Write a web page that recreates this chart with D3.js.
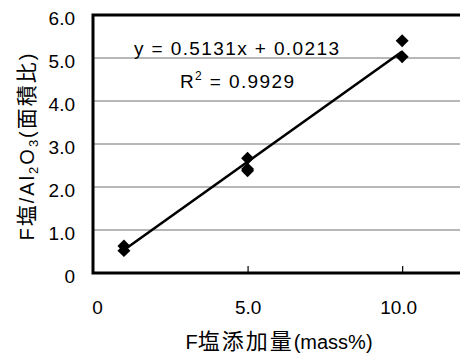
<!DOCTYPE html>
<html>
<head>
<meta charset="utf-8">
<script src="https://cdn.jsdelivr.net/npm/d3@7"></script>
<style>
  html, body { margin: 0; padding: 0; background: #fff; }
  svg { display: block; }
  text { font-family: "Liberation Sans", Arial, "Noto Sans CJK JP", sans-serif; fill: #000; }
  .cjk { font-family: "Noto Sans CJK JP", sans-serif; }
</style>
</head>
<body>
<svg id="chart" width="460" height="354"></svg>
<script>
// Measured samples: F-salt addition (mass%) vs. F-salt / Al2O3 peak area ratio
const additionMass = [1, 1, 5, 5, 5, 10, 10];
const areaRatio    = [0.63, 0.52, 2.67, 2.42, 2.38, 5.40, 5.03];

// Linear trendline
const slope = 0.5131;
const intercept = 0.0213;
const rSquared = "0.9929";

// Axis ticks
const xTicks = [0, 5, 10];
const xTickLabels = ["0", "5.0", "10.0"];
const yTicks = [0, 1, 2, 3, 4, 5, 6];
const yTickLabels = ["0", "1.0", "2.0", "3.0", "4.0", "5.0", "6.0"];

const svg = d3.select("#chart");
const plot = { left: 93, top: 15, right: 464, bottom: 273 };

const x = d3.scaleLinear().domain([0, 12]).range([plot.left, plot.right]);
const y = d3.scaleLinear().domain([0, 6]).range([plot.bottom, plot.top]);

// Horizontal gridlines
svg.append("g")
  .selectAll("line")
  .data(yTicks.filter(v => v > 0 && v < 6))
  .join("line")
  .attr("x1", plot.left).attr("x2", plot.right)
  .attr("y1", d => y(d)).attr("y2", d => y(d))
  .attr("stroke", "#707070").attr("stroke-width", 1);

// Y tick labels
svg.append("g")
  .selectAll("text")
  .data(yTicks)
  .join("text")
  .attr("x", 75)
  .attr("y", d => y(d) + 3)
  .attr("text-anchor", "end")
  .attr("dominant-baseline", "central")
  .attr("font-size", 19)
  .text((d, i) => yTickLabels[i]);

// X axis ticks (inward) and labels
const xAxis = d3.axisBottom(x)
  .tickValues(xTicks)
  .tickSize(-7)
  .tickFormat((d, i) => xTickLabels[i]);
const gx = svg.append("g")
  .attr("transform", `translate(0,${plot.bottom})`)
  .call(xAxis);
gx.select(".domain").remove();
gx.selectAll(".tick line").attr("stroke", "#000").attr("stroke-width", 1.2)
  .filter(d => d === 0).remove();
gx.selectAll(".tick text")
  .attr("y", 0).attr("dy", 0)
  .attr("transform", (d, i) => `translate(${[4, 0, -4][i]},41)`)
  .attr("font-size", 19)
  .attr("font-family", "Liberation Sans, Arial, sans-serif")
  .attr("fill", "#000");

// Plot frame (top, left, bottom)
svg.append("path")
  .attr("d", `M${plot.right},${plot.top} L${plot.left},${plot.top} L${plot.left},${plot.bottom} L${plot.right},${plot.bottom}`)
  .attr("fill", "none")
  .attr("stroke", "#000")
  .attr("stroke-width", 3);

// Trendline across the data range
const xExtent = d3.extent(additionMass);
const line = d3.line().x(d => x(d)).y(d => y(slope * d + intercept));
svg.append("path")
  .datum(xExtent)
  .attr("d", line)
  .attr("fill", "none")
  .attr("stroke", "#000")
  .attr("stroke-width", 2.6);

// Diamond markers
const diamond = d3.symbol().type(d3.symbolSquare).size(84);
svg.append("g")
  .selectAll("path")
  .data(additionMass.map((v, i) => [v, areaRatio[i]]))
  .join("path")
  .attr("d", diamond)
  .attr("transform", d => `translate(${x(d[0])},${y(d[1])}) rotate(45)`)
  .attr("fill", "#000");

// Trendline equation and R²
svg.append("text")
  .attr("x", 134).attr("y", 55)
  .attr("font-size", 19)
  .attr("textLength", 205).attr("lengthAdjust", "spacing")
  .text(`y = ${slope}x + ${intercept}`);
const r2 = svg.append("text")
  .attr("x", 180).attr("y", 88)
  .attr("font-size", 19)
  .attr("textLength", 114).attr("lengthAdjust", "spacing");
r2.append("tspan").text("R");
r2.append("tspan").attr("font-size", 12).attr("dy", -8).text("2");
r2.append("tspan").attr("dy", 8).text(" = " + rSquared);

// Axis titles: list of [text, kind] runs
function addRuns(sel, runs) {
  runs.forEach(([t, kind]) => {
    const ts = sel.append("tspan").text(t);
    if (kind === "cjk") ts.attr("class", "cjk").attr("font-size", 21);
    if (kind === "sub") ts.attr("font-size", 13).attr("dy", 4);
    if (kind === "unsub") ts.attr("dy", -4);
  });
}

const yTitle = svg.append("text")
  .attr("transform", "translate(34,146) rotate(-90)")
  .attr("text-anchor", "middle")
  .attr("font-size", 20)
  .style("letter-spacing", "2px");
addRuns(yTitle, [
  ["F", ""], ["塩", "cjk"], ["/Al", ""], ["2", "sub"], ["O", "unsub"],
  ["3", "sub"], ["(", "unsub"], ["面積比", "cjk"], [")", ""]
]);

const xTitle = svg.append("text")
  .attr("x", 279).attr("y", 349)
  .attr("text-anchor", "middle")
  .attr("font-size", 20);
xTitle.append("tspan").text("F");
xTitle.append("tspan").attr("class", "cjk").attr("font-size", 22)
  .style("letter-spacing", "2px").text("塩添加量");
xTitle.append("tspan").text("(mass%)");
</script>
</body>
</html>
